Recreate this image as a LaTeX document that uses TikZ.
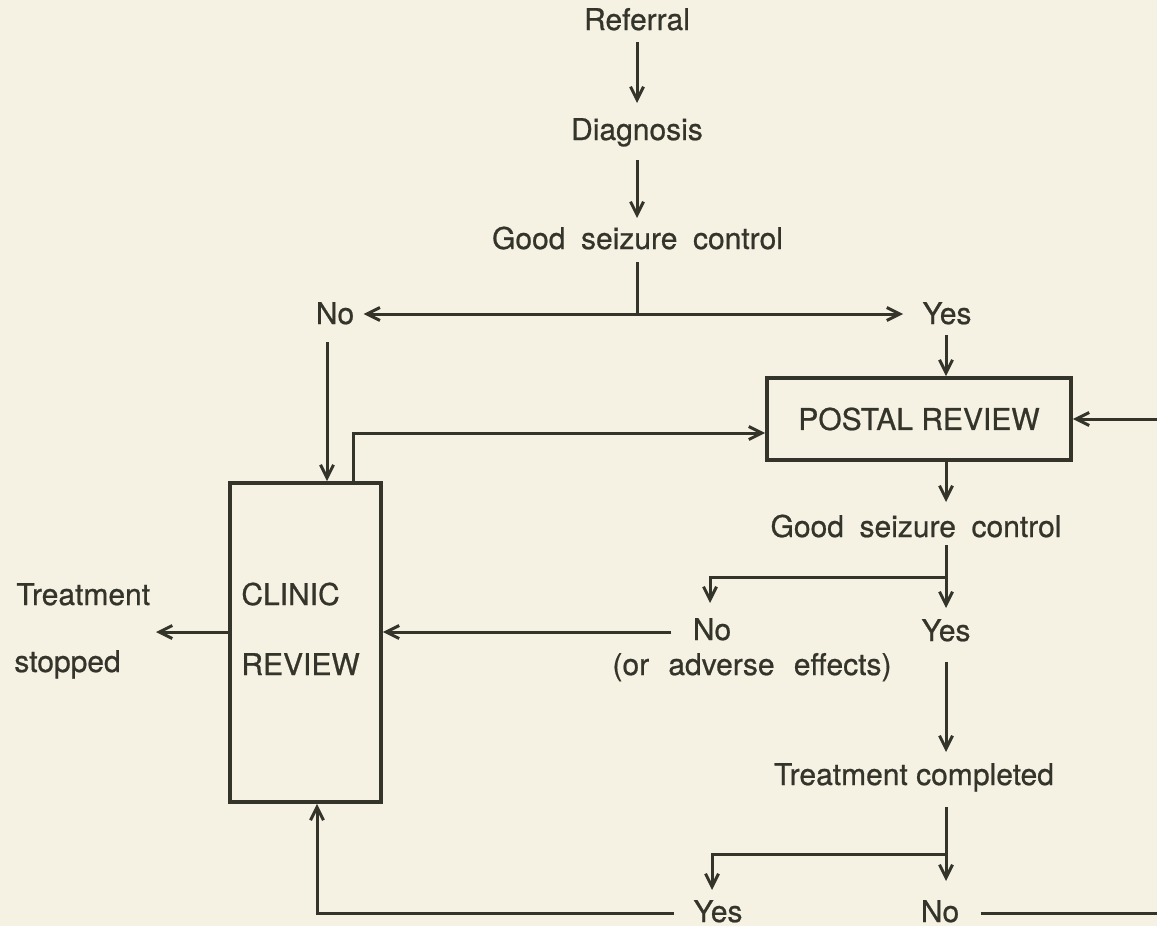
\documentclass[tikz,border=0pt]{standalone}
\usepackage{fontspec}
\setmainfont{TeX Gyre Heros}[FakeBold=0.7]
\usetikzlibrary{arrows.meta,calc}
\definecolor{paper}{RGB}{245,242,228}
\definecolor{ink}{RGB}{52,52,42}
\newcommand\wsp{\hspace{0.52em}}
\newcommand\wspb{\hspace{0.64em}}
\begin{document}
\begin{tikzpicture}[x=0.5pt,y=-0.5pt,
  txt/.style={inner sep=0pt, anchor=base, text=ink, font=\fontsize{15}{18}\selectfont},
  ln/.style={draw=ink, line width=1.5pt},
  arr/.style={-{Straight Barb[length=6.5pt,width=6.5pt,line width=1.5pt]}},
  boxnode/.style={draw=ink, line width=1.8pt, inner sep=0pt, text=ink, font=\fontsize{15}{18}\selectfont}]
\fill[paper] (0,0) rectangle (1157,926);
\useasboundingbox (0,0) rectangle (1157,926);

% text nodes
\node[txt] (ref) at (637,30) {Referral};
\node[txt] (diag) at (637,140) {Diagnosis};
\node[txt] (gsc1) at (637.5,249) {Good\wsp seizure\wsp control};
\node[txt] (no1) at (335,324) {No};
\node[txt] (yes1) at (947,324) {Yes};
\node[boxnode, minimum width=152pt, minimum height=41pt] (postal) at (919,419) {POSTAL REVIEW};
\node[txt] (gsc2) at (916,537) {Good\wsp seizure\wsp control};
\node[txt] (no2) at (712,640) {No};
\node[txt] (adv) at (752,675) {(or\wspb adverse\wspb effects)};
\node[txt] (yes2) at (946,641) {Yes};
\node[txt] (tc) at (914,785) {Treatment completed};
\node[txt] (yes3) at (718,922) {Yes};
\node[txt] (no3) at (940,922) {No};
\node[boxnode, minimum width=75.5pt, minimum height=159.5pt] (clinic) at (305.5,642.5) {};
\node[txt, anchor=base west] (clin1) at (241,605) {CLINIC};
\node[txt, anchor=base west] (clin2) at (241,675) {REVIEW};
\node[txt, anchor=base west] (ts1) at (16,605) {Treatment};
\node[txt, anchor=base west] (ts2) at (14,672) {stopped};
\coordinate (stopend) at (156,632);
\coordinate (redge) at (1157,419);
\coordinate (redge2) at (1157,913);

% top chain
\draw[ln,arr] ($(ref.base)+(0,12)$) -- ($(diag.base)+(0,-37)$);
\draw[ln,arr] ($(diag.base)+(0,20)$) -- ($(gsc1.base)+(-0.5,-31)$);
\coordinate (j1) at ($(gsc1.base)+(-0.5,65)$);
\draw[ln] ($(gsc1.base)+(-0.5,13)$) -- (j1);
\draw[ln,arr] (j1) -- ($(no1.base east)+(9,-10)$);
\draw[ln,arr] (j1) -- ($(yes1.base west)+(-19,-10)$);

% No -> clinic
\coordinate (c1) at ($(no1.base)+(-8,18)$);
\draw[ln,arr] (c1) -- (c1 |- clinic.north);

% Yes -> postal
\coordinate (c2) at ($(yes1.base)+(-1,11)$);
\draw[ln,arr] (c2) -- (c2 |- postal.north);

% clinic -> postal
\coordinate (c3) at ($(clinic.north west)+(125,0)$);
\coordinate (c4) at ($(postal.west)+(0,14)$);
\draw[ln,arr] (c3) |- (c4);

% right return -> postal
\draw[ln,arr] (redge) -- (postal.east);

% postal -> good seizure control 2
\draw[ln,arr] (c2 |- postal.south) -- ($(c2 |- gsc2.base)+(0,-35)$);

% branch after gsc2
\coordinate (c5) at ($(c2 |- gsc2.base)+(0,8)$);
\coordinate (c6) at ($(c2 |- gsc2.base)+(0,40)$);
\draw[ln,arr] (c5) -- ($(c2 |- yes2.base)+(0,-33)$);
\draw[ln,arr] (c6) -| ($(no2.base)+(-2,-37)$);

% No (adverse) -> clinic, clinic -> treatment stopped
\coordinate (c7) at ($(no2.base west)+(-21,-8)$);
\draw[ln,arr] (c7) -- (c7 -| clinic.east);
\draw[ln,arr] (c7 -| clinic.west) -- (stopend);

% Yes -> treatment completed
\draw[ln,arr] ($(c2 |- yes2.base)+(0,21)$) -- ($(c2 |- tc.base)+(0,-33)$);

% branch after treatment completed
\coordinate (c8) at ($(c2 |- tc.base)+(0,22)$);
\coordinate (c9) at ($(c2 |- tc.base)+(0,69)$);
\draw[ln,arr] (c8) -- ($(c2 |- no3.base)+(0,-41)$);
\draw[ln,arr] (c9) -| ($(yes3.base)+(-6,-32)$);

% Yes -> clinic (bottom)
\coordinate (c10) at ($(clinic.south)+(11.5,0)$);
\coordinate (c11) at ($(yes3.base west)+(-19,-9)$);
\draw[ln,arr] (c11) -| (c10);

% No -> right edge
\draw[ln] ($(no3.base east)+(21,-9)$) -- (redge2);
\end{tikzpicture}
\end{document}
